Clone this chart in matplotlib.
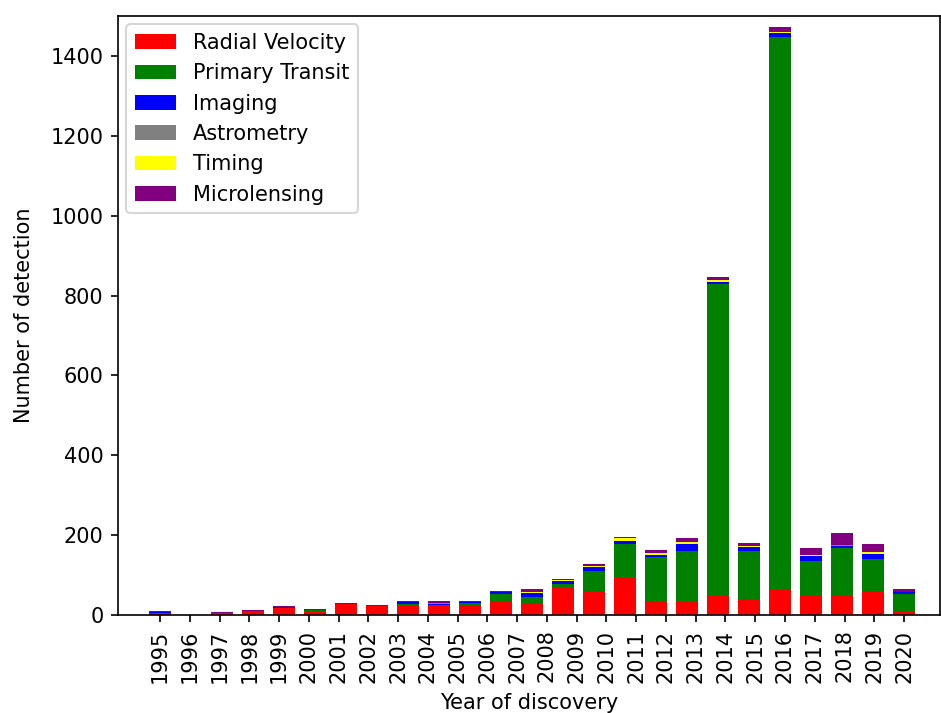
"""
Exoplanet detections per year, stacked by discovery method.
"""
import numpy as np
import matplotlib
matplotlib.use('Agg')
import matplotlib.pyplot as plt

# Tick labels along the x axis (26 labels, 25 bars drawn below them)
year_labels = [str(y) for y in range(1995, 2021)]

# Counts per bar, one list per method (bottom to top of each stack)
radial_velocity = [5, 0, 5, 9, 18, 10, 28, 23, 23, 25, 23, 35, 30, 68, 58,
                   95, 35, 35, 50, 38, 65, 50, 50, 58, 8]
primary_transit = [0, 0, 0, 1, 0, 3, 0, 0, 5, 0, 7, 18, 15, 10, 52,
                   83, 110, 125, 779, 122, 1382, 85, 118, 82, 45]
imaging = [3, 0, 0, 0, 1, 0, 0, 0, 5, 3, 3, 5, 10, 7, 10,
           7, 5, 17, 5, 10, 10, 13, 6, 12, 5]
astrometry = [0, 0, 0, 0, 0, 0, 0, 0, 0, 1, 0, 0, 0, 0, 0,
              0, 0, 0, 0, 0, 0, 0, 2, 0, 0]
timing = [0, 0, 0, 0, 0, 0, 0, 0, 0, 0, 0, 0, 2, 3, 3,
          7, 5, 5, 5, 3, 3, 3, 0, 5, 0]
microlensing = [2, 0, 2, 3, 3, 2, 2, 2, 2, 5, 2, 2, 8, 2, 5,
                3, 8, 10, 7, 7, 12, 17, 29, 20, 7]

methods = [
    ("Radial Velocity", radial_velocity, "red"),
    ("Primary Transit", primary_transit, "green"),
    ("Imaging", imaging, "blue"),
    ("Astrometry", astrometry, "gray"),
    ("Timing", timing, "yellow"),
    ("Microlensing", microlensing, "purple"),
]

W, H, DPI = 941, 713, 150
fig = plt.figure(figsize=(W / DPI, H / DPI), dpi=DPI)
ax = fig.add_axes([118 / W, 1 - 615 / H, (940 - 118) / W, (615 - 16) / H])

x = np.arange(len(radial_velocity))
bottom = np.zeros(len(x))
for label, values, color in methods:
    ax.bar(x, values, width=0.7, bottom=bottom, color=color, label=label)
    bottom += np.array(values)

ax.set_xticks(np.linspace(0, len(x) - 1, len(year_labels)))
ax.set_xticklabels(year_labels, rotation=90)
ax.set_xlim(-1.355, 25.16)
ax.set_ylim(0, 1500)
ax.set_yticks([0, 200, 400, 600, 800, 1000, 1200, 1400])

ax.set_xlabel("Year of discovery", labelpad=5)
ax.set_ylabel("Number of detection", labelpad=8)
ax.legend(loc="upper left", borderaxespad=0.4)

fig.savefig("out.png", dpi=DPI)
